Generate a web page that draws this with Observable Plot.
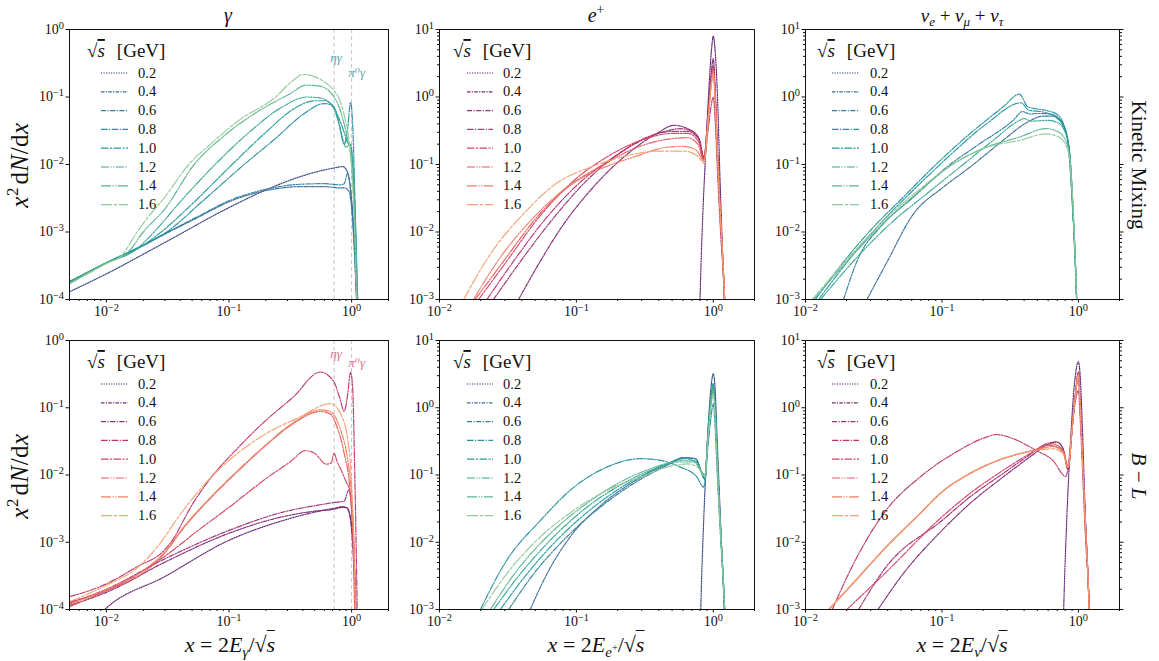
<!DOCTYPE html>
<html><head><meta charset="utf-8">
<script src="https://cdn.jsdelivr.net/npm/d3@7"></script>
<script src="https://cdn.jsdelivr.net/npm/@observablehq/plot@0.6"></script>
<style>
body{margin:0;background:#fff;}
#fig{position:relative;width:1159px;height:661px;font-family:'Liberation Serif','DejaVu Serif',serif;color:#111;overflow:hidden;}
.lab{position:absolute;white-space:nowrap;font-size:22px;line-height:1;}
.lab sub,.lab sup{font-size:0.68em;line-height:0;}
.ov{border-top:1.2px solid #111;padding-top:1px;}
.panel{position:absolute;}
</style></head><body><div id="fig"></div>
<script>
const energies = ["0.2","0.4","0.6","0.8","1.0","1.2","1.4","1.6"];
const crest = ["#2f3f7e","#3a6c9b","#2e7f9e","#26909e","#249c9b","#36a893","#5db58f","#93c99a"];
const flare = ["#5b1f6e","#7d2775","#9c2d74","#ba356d","#d44466","#e65a5c","#ee7d61","#f3a173"];
const dashes = ["1.2,1.3","3.5,1.3,1.2,1.3","5,1.5,1.2,1.5","6.5,1.5,1.2,1.5","7.5,1.5,2,1.5","8,1.5,1.2,1.5,1.2,1.5","10,1.5,1.2,1.5,1.2,1.5","11,2,3,2"];
const gammaLineX = [0.72, 1.0];
const gammaLineLabels = ["ηγ", "π⁰γ"];

const gammaKM = [
 [[0.005,1.3e-4],[0.01,2.4e-4],[0.03,7e-4],[0.1,2.3e-3],[0.2,4.2e-3],[0.4,6.8e-3],[0.7,8.8e-3],[0.85,9.3e-3],[0.93,7.5e-3],[1.0,3e-3],[1.06,6e-4],[1.1,1e-4],[1.15,1.5e-5]],
 [[0.005,1.85e-4],[0.01,3.5e-4],[0.02,6.3e-4],[0.03,9.3e-4],[0.056,1.65e-3],[0.1,2.8e-3],[0.2,4.1e-3],[0.38,4.7e-3],[0.6,4.7e-3],[0.8,4.5e-3],[0.88,4.5e-3],[0.95,4e-3],[1.02,1.5e-3],[1.08,2e-4],[1.13,2e-5]],
 [[0.005,1.8e-4],[0.01,3.5e-4],[0.02,6.4e-4],[0.03,9.5e-4],[0.056,1.7e-3],[0.1,2.9e-3],[0.2,4.3e-3],[0.38,5.1e-3],[0.6,5.2e-3],[0.8,5e-3],[0.87,5.2e-3],[0.93,7.5e-3],[0.97,5e-3],[1.03,1.2e-3],[1.09,1.5e-4],[1.14,2e-5]],
 [[0.005,1.8e-4],[0.01,3.5e-4],[0.02,6.4e-4],[0.031,1e-3],[0.06,2.8e-3],[0.133,0.01],[0.25,0.026],[0.4,0.055],[0.6,0.08],[0.7,0.075],[0.78,0.045],[0.87,0.02],[0.93,0.035],[0.98,0.083],[1.02,0.04],[1.06,4e-3],[1.1,2e-4],[1.14,1e-5]],
 [[0.005,1.8e-4],[0.01,3.5e-4],[0.019,6e-4],[0.028,1e-3],[0.05,2.6e-3],[0.106,0.01],[0.2,0.03],[0.33,0.065],[0.5,0.088],[0.6,0.088],[0.7,0.075],[0.8,0.045],[0.87,0.03],[0.93,0.021],[0.98,0.02],[1.03,0.008],[1.08,1e-3],[1.12,1e-4],[1.16,1e-5]],
 [[0.005,1.75e-4],[0.01,3.5e-4],[0.017,5.3e-4],[0.0245,1e-3],[0.04,2.8e-3],[0.077,0.01],[0.146,0.03],[0.275,0.072],[0.43,0.1],[0.55,0.097],[0.67,0.08],[0.75,0.055],[0.83,0.028],[0.9,0.018],[0.97,0.02],[1.03,0.008],[1.08,1e-3],[1.12,1e-4],[1.16,1e-5]],
 [[0.005,1.75e-4],[0.01,3.5e-4],[0.015,5e-4],[0.02,1e-3],[0.03,2.2e-3],[0.052,0.01],[0.092,0.027],[0.177,0.063],[0.31,0.11],[0.43,0.15],[0.55,0.145],[0.72,0.1],[0.83,0.055],[0.92,0.025],[1.0,0.01],[1.05,2.5e-3],[1.09,3e-4],[1.13,2e-5]],
 [[0.005,1.7e-4],[0.01,3.4e-4],[0.0135,4.6e-4],[0.0178,1e-3],[0.0215,1.6e-3],[0.03,3.3e-3],[0.047,0.01],[0.075,0.022],[0.12,0.045],[0.24,0.1],[0.32,0.165],[0.4,0.215],[0.5,0.2],[0.62,0.16],[0.72,0.125],[0.8,0.09],[0.88,0.05],[0.96,0.02],[1.02,5e-3],[1.08,3e-4],[1.12,2e-5]]
];

const positronKM = [
 [[0.78,1e-4],[0.8,1e-3],[0.84,0.02],[0.88,0.15],[0.93,1.4],[0.97,5],[1.0,8],[1.03,5],[1.07,1.2],[1.12,0.06],[1.2,1e-3],[1.24,1e-4]],
 [[0.0378,1e-3],[0.0545,3.7e-3],[0.081,0.0132],[0.126,0.041],[0.222,0.129],[0.389,0.29],[0.515,0.38],[0.65,0.34],[0.78,0.25],[0.855,0.13],[0.92,0.7],[0.96,2.0],[1.0,3.7],[1.03,1.5],[1.07,0.2],[1.13,0.018],[1.21,1e-3],[1.26,1e-4]],
 [[0.0248,1e-3],[0.041,4.2e-3],[0.072,0.0185],[0.126,0.065],[0.222,0.161],[0.389,0.285],[0.577,0.339],[0.72,0.3],[0.8,0.22],[0.855,0.12],[0.92,0.6],[0.96,1.7],[1.0,2.9],[1.03,1.2],[1.07,0.17],[1.13,0.017],[1.21,1e-3],[1.26,1e-4]],
 [[0.0222,1e-3],[0.0348,3.7e-3],[0.061,0.0166],[0.107,0.055],[0.1875,0.129],[0.329,0.255],[0.515,0.31],[0.65,0.31],[0.78,0.24],[0.855,0.12],[0.92,0.35],[0.96,0.7],[1.0,1.0],[1.03,0.5],[1.07,0.09],[1.13,0.01],[1.21,1e-3],[1.26,1e-4]],
 [[0.0193,1e-3],[0.031,3.7e-3],[0.0545,0.0175],[0.096,0.058],[0.167,0.129],[0.294,0.227],[0.515,0.29],[0.65,0.29],[0.78,0.22],[0.855,0.12],[0.92,0.55],[0.96,1.4],[1.0,2.3],[1.03,1.0],[1.07,0.15],[1.13,0.016],[1.21,1e-3],[1.26,1e-4]],
 [[0.0182,1e-3],[0.0294,3.7e-3],[0.0515,0.0166],[0.09,0.049],[0.158,0.1],[0.278,0.18],[0.49,0.24],[0.645,0.25],[0.77,0.2],[0.855,0.115],[0.92,0.55],[0.96,1.5],[1.0,2.7],[1.03,1.1],[1.07,0.17],[1.13,0.017],[1.21,1e-3],[1.26,1e-4]],
 [[0.0177,1e-3],[0.0278,4.2e-3],[0.0488,0.0165],[0.0855,0.046],[0.15,0.086],[0.263,0.129],[0.46,0.18],[0.61,0.186],[0.76,0.16],[0.855,0.11],[0.92,0.5],[0.96,1.4],[1.0,2.4],[1.03,1.0],[1.07,0.16],[1.13,0.016],[1.21,1e-3],[1.26,1e-4]],
 [[0.015,1e-3],[0.0235,4.7e-3],[0.041,0.0185],[0.072,0.053],[0.126,0.091],[0.222,0.131],[0.389,0.158],[0.61,0.158],[0.76,0.136],[0.855,0.105],[0.92,0.5],[0.96,1.3],[1.0,2.2],[1.03,0.95],[1.07,0.15],[1.13,0.016],[1.21,1e-3],[1.26,1e-4]]
];

const neutrinoKM = [
 [],
 [[0.0282,1e-3],[0.039,3.4e-3],[0.0618,0.0185],[0.102,0.046],[0.16,0.091],[0.28,0.227],[0.42,0.42],[0.55,0.52],[0.66,0.52],[0.75,0.42],[0.82,0.28],[0.87,0.12],[0.92,0.015],[0.97,1e-3],[1.0,1e-4]],
 [[0.019,1e-3],[0.0245,4.2e-3],[0.0352,0.0117],[0.062,0.033],[0.108,0.091],[0.189,0.203],[0.332,0.45],[0.39,0.61],[0.44,0.56],[0.52,0.57],[0.62,0.56],[0.72,0.48],[0.8,0.33],[0.87,0.12],[0.92,0.015],[0.97,1e-3],[1.0,1e-4]],
 [[0.0118,1e-3],[0.017,2.7e-3],[0.0298,0.0105],[0.052,0.0327],[0.0914,0.102],[0.16,0.285],[0.28,0.71],[0.37,1.1],[0.427,0.71],[0.49,0.67],[0.6,0.62],[0.7,0.55],[0.77,0.42],[0.84,0.2],[0.9,0.03],[0.96,2e-3],[1.0,1e-4]],
 [[0.0125,1e-3],[0.0225,4.7e-3],[0.039,0.0165],[0.069,0.052],[0.121,0.152],[0.212,0.4],[0.382,0.82],[0.43,0.64],[0.55,0.6],[0.68,0.5],[0.77,0.38],[0.84,0.2],[0.9,0.03],[0.96,2e-3],[1.0,1e-4]],
 [[0.0129,1e-3],[0.0238,4.2e-3],[0.0417,0.0132],[0.077,0.0366],[0.135,0.091],[0.237,0.227],[0.37,0.45],[0.4,0.48],[0.45,0.44],[0.6,0.45],[0.7,0.42],[0.79,0.32],[0.86,0.15],[0.91,0.02],[0.97,1e-3],[1.01,1e-4]],
 [[0.0115,1e-3],[0.0225,4.7e-3],[0.039,0.0147],[0.069,0.041],[0.121,0.102],[0.212,0.18],[0.37,0.255],[0.58,0.34],[0.72,0.3],[0.84,0.18],[0.9,0.04],[0.96,2e-3],[1.01,1e-4]],
 [[0.0112,1e-3],[0.0225,5e-3],[0.039,0.016],[0.069,0.0435],[0.121,0.102],[0.212,0.18],[0.37,0.227],[0.58,0.285],[0.72,0.255],[0.84,0.16],[0.9,0.04],[0.96,2e-3],[1.01,1e-4]]
];

const gammaBL = [
 [[0.008,7e-5],[0.01,1.05e-4],[0.0296,3.05e-4],[0.1,1.07e-3],[0.275,2.1e-3],[0.5,2.8e-3],[0.72,3.2e-3],[0.9,3.3e-3],[0.97,2.5e-3],[1.03,1e-3],[1.07,2e-4],[1.1,3e-5]],
 [[0.005,1.15e-4],[0.01,1.8e-4],[0.0296,5e-4],[0.1,1.36e-3],[0.275,2.4e-3],[0.5,2.9e-3],[0.72,3.1e-3],[0.83,3.4e-3],[0.93,3.2e-3],[1.0,1.5e-3],[1.05,3e-4],[1.09,3e-5]],
 [[0.005,1.25e-4],[0.01,2e-4],[0.0296,5.6e-4],[0.1,1.5e-3],[0.275,2.8e-3],[0.5,3.5e-3],[0.72,3.9e-3],[0.87,4.1e-3],[0.95,6e-3],[1.0,4e-3],[1.05,6e-4],[1.1,3e-5]],
 [[0.005,1.55e-4],[0.01,2.4e-4],[0.0177,4.3e-4],[0.0296,7.6e-4],[0.036,1.2e-3],[0.043,2.2e-3],[0.05,3.6e-3],[0.072,9.3e-3],[0.12,0.026],[0.2,0.065],[0.334,0.144],[0.556,0.34],[0.72,0.24],[0.8,0.14],[0.87,0.089],[0.93,0.16],[0.98,0.34],[1.02,0.2],[1.06,0.012],[1.1,3e-4],[1.13,1e-5]],
 [[0.005,1.3e-4],[0.01,1.9e-4],[0.0296,6.1e-4],[0.056,1.5e-3],[0.1,3.3e-3],[0.2,8.8e-3],[0.32,0.016],[0.42,0.023],[0.5,0.021],[0.62,0.0145],[0.68,0.015],[0.72,0.021],[0.76,0.016],[0.82,0.012],[0.9,8e-3],[0.96,6e-3],[1.0,3e-3],[1.05,5e-4],[1.09,3e-5]],
 [[0.005,1.1e-4],[0.01,1.9e-4],[0.02,3.5e-4],[0.0296,6.8e-4],[0.0434,1.7e-3],[0.072,4.7e-3],[0.12,0.0117],[0.2,0.0276],[0.334,0.058],[0.556,0.088],[0.67,0.081],[0.76,0.052],[0.87,0.021],[0.97,6e-3],[1.03,1e-3],[1.07,3e-5]],
 [[0.005,1.2e-4],[0.01,2e-4],[0.02,3.8e-4],[0.0296,7e-4],[0.0434,1.75e-3],[0.072,4.8e-3],[0.12,0.012],[0.2,0.028],[0.334,0.06],[0.556,0.093],[0.67,0.088],[0.815,0.046],[0.93,0.0167],[1.0,5e-3],[1.05,8e-4],[1.09,3e-5]],
 [[0.005,1.3e-4],[0.01,2.3e-4],[0.0177,4.1e-4],[0.026,8.5e-4],[0.0407,2.7e-3],[0.0636,7.4e-3],[0.1,0.0165],[0.2,0.041],[0.38,0.073],[0.67,0.115],[0.815,0.081],[0.95,0.026],[1.02,3e-3],[1.06,3e-4],[1.09,3e-5]]
];

const positronBL = [
 [[0.79,1e-4],[0.81,1e-3],[0.85,0.02],[0.9,0.25],[0.95,1.5],[1.0,3.2],[1.03,2],[1.07,0.3],[1.13,0.02],[1.2,1e-3],[1.24,1e-4]],
 [[0.046,1e-3],[0.061,3.4e-3],[0.09,0.012],[0.15,0.035],[0.26,0.079],[0.46,0.145],[0.61,0.182],[0.74,0.175],[0.87,0.09],[0.92,0.5],[0.96,1.2],[1.0,2.0],[1.03,1.0],[1.07,0.15],[1.13,0.016],[1.21,1e-3],[1.26,1e-4]],
 [[0.032,1e-3],[0.0488,3.4e-3],[0.085,0.012],[0.15,0.0335],[0.26,0.074],[0.46,0.139],[0.61,0.18],[0.74,0.175],[0.87,0.09],[0.92,0.55],[0.96,1.4],[1.0,2.3],[1.03,1.1],[1.07,0.17],[1.13,0.017],[1.21,1e-3],[1.26,1e-4]],
 [[0.0199,1e-3],[0.031,5.4e-3],[0.0545,0.021],[0.096,0.066],[0.167,0.131],[0.294,0.175],[0.389,0.168],[0.575,0.131],[0.76,0.093],[0.85,0.066],[0.92,0.3],[0.96,0.7],[1.0,1.15],[1.03,0.55],[1.07,0.1],[1.13,0.012],[1.21,1e-3],[1.26,1e-4]],
 [[0.0278,1e-3],[0.0436,3.4e-3],[0.076,0.012],[0.134,0.0335],[0.235,0.074],[0.41,0.131],[0.61,0.175],[0.76,0.156],[0.87,0.085],[0.92,0.45],[0.96,1.2],[1.0,2.1],[1.03,1.0],[1.07,0.16],[1.13,0.016],[1.21,1e-3],[1.26,1e-4]],
 [[0.0249,1e-3],[0.039,3.4e-3],[0.068,0.012],[0.12,0.0335],[0.21,0.071],[0.37,0.124],[0.575,0.163],[0.72,0.163],[0.87,0.1],[0.92,0.5],[0.96,1.3],[1.0,2.2],[1.03,1.0],[1.07,0.16],[1.13,0.016],[1.21,1e-3],[1.26,1e-4]],
 [[0.0235,1e-3],[0.0368,3.8e-3],[0.0645,0.0135],[0.113,0.035],[0.199,0.074],[0.348,0.124],[0.54,0.156],[0.72,0.156],[0.87,0.1],[0.92,0.45],[0.96,1.1],[1.0,1.9],[1.03,0.9],[1.07,0.15],[1.13,0.015],[1.21,1e-3],[1.26,1e-4]],
 [[0.0204,1e-3],[0.031,3.4e-3],[0.0545,0.012],[0.096,0.03],[0.167,0.059],[0.294,0.093],[0.515,0.139],[0.65,0.146],[0.77,0.13],[0.87,0.093],[0.92,0.4],[0.96,1.0],[1.0,1.6],[1.03,0.8],[1.07,0.13],[1.13,0.014],[1.21,1e-3],[1.26,1e-4]]
];

const neutrinoBL = [
 [[0.76,1e-4],[0.78,1e-3],[0.82,0.02],[0.87,0.25],[0.93,2],[1.0,4.8],[1.03,3],[1.07,0.5],[1.12,0.03],[1.2,1e-3],[1.24,1e-4]],
 [[0.034,1e-3],[0.052,3.4e-3],[0.1,0.015],[0.16,0.0375],[0.28,0.093],[0.44,0.185],[0.58,0.275],[0.69,0.31],[0.77,0.25],[0.84,0.12],[0.9,0.5],[0.95,1.6],[1.0,3.4],[1.03,1.1],[1.07,0.2],[1.12,0.025],[1.2,1e-3],[1.24,1e-4]],
 [[0.0245,1e-3],[0.039,4.3e-3],[0.1,0.021],[0.16,0.047],[0.28,0.105],[0.44,0.2],[0.58,0.29],[0.69,0.31],[0.77,0.25],[0.84,0.12],[0.9,0.5],[0.95,1.5],[1.0,3.3],[1.03,1.1],[1.07,0.19],[1.12,0.024],[1.2,1e-3],[1.24,1e-4]],
 [[0.0157,1e-3],[0.0225,4.8e-3],[0.039,0.03],[0.069,0.093],[0.121,0.207],[0.212,0.366],[0.25,0.4],[0.332,0.347],[0.49,0.232],[0.65,0.165],[0.81,0.095],[0.86,0.2],[0.92,0.8],[0.96,1.4],[1.0,1.8],[1.03,0.7],[1.07,0.13],[1.12,0.015],[1.2,1e-3],[1.24,1e-4]],
 [[0.0201,1e-3],[0.039,3.6e-3],[0.1,0.0238],[0.16,0.053],[0.28,0.117],[0.44,0.207],[0.58,0.275],[0.72,0.26],[0.79,0.21],[0.84,0.13],[0.9,0.5],[0.95,1.5],[1.0,3.0],[1.03,1.0],[1.07,0.18],[1.12,0.022],[1.2,1e-3],[1.24,1e-4]],
 [[0.0148,1e-3],[0.0225,2.5e-3],[0.039,8.5e-3],[0.069,0.0267],[0.1,0.056],[0.16,0.105],[0.28,0.175],[0.37,0.207],[0.49,0.24],[0.65,0.29],[0.77,0.23],[0.84,0.13],[0.9,0.5],[0.95,1.5],[1.0,3.3],[1.03,1.1],[1.07,0.19],[1.12,0.024],[1.2,1e-3],[1.24,1e-4]],
 [[0.0148,1e-3],[0.0225,2.5e-3],[0.039,8.5e-3],[0.069,0.0267],[0.1,0.056],[0.16,0.105],[0.28,0.175],[0.37,0.207],[0.49,0.236],[0.65,0.265],[0.77,0.22],[0.84,0.13],[0.9,0.5],[0.95,1.5],[1.0,3.1],[1.03,1.05],[1.07,0.18],[1.12,0.023],[1.2,1e-3],[1.24,1e-4]],
 [[0.0148,1e-3],[0.0225,2.5e-3],[0.039,8.5e-3],[0.069,0.0267],[0.1,0.056],[0.16,0.105],[0.28,0.175],[0.37,0.207],[0.49,0.232],[0.65,0.246],[0.77,0.21],[0.84,0.13],[0.9,0.5],[0.95,1.5],[1.0,3.0],[1.03,1.0],[1.07,0.18],[1.12,0.022],[1.2,1e-3],[1.24,1e-4]]
];

const SERIF = "'Liberation Serif','DejaVu Serif',serif";
const cols = [
  {L:69, W:319, xDomain:[0.005,2], lg:{hx:18, x1:32, x2:59, tx:69}},
  {L:439, W:315, xDomain:[0.01,2], lg:{hx:14, x1:28, x2:54, tx:64}},
  {L:805, W:314, xDomain:[0.01,2], lg:{hx:12, x1:27, x2:54, tx:65}}
];
const rows = [{T:29, H:270}, {T:340, H:269}];
const panels = [
  {data:gammaKM, colors:crest, col:0, row:0, yDomain:[1e-4,1], lines:true, lineColor:"#5aa5b5", lineDy:[28,43]},
  {data:positronKM, colors:flare, col:1, row:0, yDomain:[1e-3,10]},
  {data:neutrinoKM, colors:crest, col:2, row:0, yDomain:[1e-3,10]},
  {data:gammaBL, colors:flare, col:0, row:1, yDomain:[1e-4,1], lines:true, lineColor:"#df6f93", lineDy:[13,22]},
  {data:positronBL, colors:crest, col:1, row:1, yDomain:[1e-3,10]},
  {data:neutrinoBL, colors:flare, col:2, row:1, yDomain:[1e-3,10]}
];

function decades(lo, hi){ const out=[]; for(let e=Math.round(Math.log10(lo)); e<=Math.round(Math.log10(hi)); e++) out.push(Math.pow(10,e)); return out; }
function minors(lo, hi){ const out=[]; for(let e=Math.floor(Math.log10(lo)); e<=Math.ceil(Math.log10(hi)); e++) for(let k=2;k<=9;k++){ const v=k*Math.pow(10,e); if(v>=lo*0.999 && v<=hi*1.001) out.push(v);} return out; }
function fmtPow(d){ const e = Math.round(Math.log10(d)); return "10^" + (e<0 ? "−"+(-e) : String(e)); }
function fixSup(svg){
  d3.select(svg).selectAll("text").each(function(){
    const m = /^10\^(.+)$/.exec(this.textContent);
    if(!m) return;
    const s = d3.select(this); s.text(null);
    s.append("tspan").text("10");
    s.append("tspan").attr("dy","-0.5em").attr("font-size","0.74em").text(m[1]);
  });
}

const fig = document.getElementById("fig");
const mL=45, mR=10, mT=10, mB=28;

panels.forEach(p => {
  const c = cols[p.col], r = rows[p.row];
  const marks = [];
  if (p.lines) {
    marks.push(Plot.ruleX(gammaLineX, {x:d=>d, stroke:"#c4c4c4", strokeWidth:1, strokeDasharray:"4,3"}));
  }
  p.data.forEach((pts,i) => {
    marks.push(Plot.line(pts, {x:d=>d[0], y:d=>d[1], stroke:p.colors[i], strokeWidth:1.2, strokeOpacity:0.95, strokeDasharray:dashes[i], curve:"monotone-x", clip:true}));
  });
  if (p.lines) {
    gammaLineLabels.forEach((lab, k) => {
      marks.push(Plot.text([lab], {x:[gammaLineX[k]], text:d=>d, frameAnchor:"top", dy:p.lineDy[k], dx:(k===0?2:5), fill:p.lineColor, fontSize:13, fontStyle:"italic", fontFamily:SERIF, textAnchor:"middle", lineAnchor:"middle"}));
    });
  }
  const xMaj = decades(c.xDomain[0], c.xDomain[1]).filter(v=>v>=c.xDomain[0]&&v<=c.xDomain[1]);
  const yMaj = decades(p.yDomain[0], p.yDomain[1]);
  marks.push(Plot.axisX({ticks:xMaj, tickFormat:fmtPow, tickSize:3.5, tickPadding:3, fontSize:14, label:null}));
  marks.push(Plot.axisX({ticks:minors(c.xDomain[0], c.xDomain[1]), tickFormat:()=>"", tickSize:2, label:null}));
  marks.push(Plot.axisY({ticks:yMaj, tickFormat:fmtPow, tickSize:3.5, tickPadding:2, fontSize:14, label:null}));
  if (p.col>0) marks.push(Plot.axisY({ticks:minors(p.yDomain[0], p.yDomain[1]), tickFormat:()=>"", tickSize:2, label:null}));
  if (p.col===2) {
    marks.push(Plot.axisY({anchor:"right", ticks:yMaj, tickFormat:()=>"", tickSize:3.5, label:null}));
    marks.push(Plot.axisY({anchor:"right", ticks:minors(p.yDomain[0], p.yDomain[1]), tickFormat:()=>"", tickSize:2, label:null}));
  }
  marks.push(Plot.frame({stroke:"#111", strokeWidth:1}));
  const svg = Plot.plot({
    width: c.W + mL + mR, height: r.H + mT + mB,
    marginLeft:mL, marginRight:mR, marginTop:mT, marginBottom:mB,
    x:{type:"log", domain:c.xDomain},
    y:{type:"log", domain:p.yDomain},
    style:{fontFamily:SERIF, fontSize:"14px", color:"#111", background:"transparent", overflow:"visible"},
    marks
  });
  svg.classList.add("panel");
  svg.style.left = (c.L - mL) + "px";
  svg.style.top = (r.T - mT) + "px";
  fig.appendChild(svg);
  fixSup(svg);
  // legend
  const g = d3.select(svg).append("g").attr("font-family", SERIF).attr("fill","#111").attr("text-anchor","start");
  const L = mL, T = mT;
  const hdr = g.append("text").attr("x", L + c.lg.hx).attr("y", T + 28).attr("font-size", 19);
  hdr.append("tspan").text("√");
  hdr.append("tspan").attr("font-style","italic").attr("text-decoration","overline").text("s");
  hdr.append("tspan").attr("dx", 12).text("[GeV]");
  energies.forEach((e,i) => {
    const y = T + 44 + 18.8*i;
    g.append("line").attr("x1", L + c.lg.x1).attr("x2", L + c.lg.x2).attr("y1", y).attr("y2", y)
      .attr("stroke", p.colors[i]).attr("stroke-width", 1.2).attr("stroke-dasharray", dashes[i]);
    g.append("text").attr("x", L + c.lg.tx).attr("y", y + 4.5).attr("font-size", 14.5).text(e);
  });
});

function addLab(html, x, y, rot, extra){
  const d = document.createElement("div");
  d.className = "lab";
  d.innerHTML = html;
  d.style.left = x + "px"; d.style.top = y + "px";
  d.style.transform = "translate(-50%,-50%)" + (rot ? " rotate(" + rot + "deg)" : "");
  if (extra) Object.assign(d.style, extra);
  fig.appendChild(d);
}
const sqrtS = '√<span class="ov"><i>s</i></span>';
const yLab = '<i>x</i><sup>2</sup>&#8202;d<i>N</i>/d<i>x</i>';
addLab('<i>γ</i>', 228, 15, 0, {fontSize:"20px"});
addLab('<i>e</i><sup>+</sup>', 596, 15, 0, {fontSize:"20px"});
addLab('<i>ν<sub>e</sub></i> + <i>ν<sub>μ</sub></i> + <i>ν<sub>τ</sub></i>', 962, 15, 0, {fontSize:"19px"});
addLab(yLab, 19, 165, -90, {fontSize:"25px", letterSpacing:"0.5px"});
addLab(yLab, 19, 476, -90, {fontSize:"25px", letterSpacing:"0.5px"});
addLab('<i>x</i> = 2<i>E</i><sub><i>γ</i></sub>/' + sqrtS, 230, 645, 0);
addLab('<i>x</i> = 2<i>E</i><sub><i>e</i><sup>+</sup></sub>/' + sqrtS, 596, 645, 0);
addLab('<i>x</i> = 2<i>E</i><sub><i>ν</i></sub>/' + sqrtS, 962, 645, 0);
addLab('Kinetic Mixing', 1138, 165, 90, {fontSize:"21px"});
addLab('<i>B</i> − <i>L</i>', 1138, 476, 90, {fontSize:"21px"});
</script>
</body></html>
